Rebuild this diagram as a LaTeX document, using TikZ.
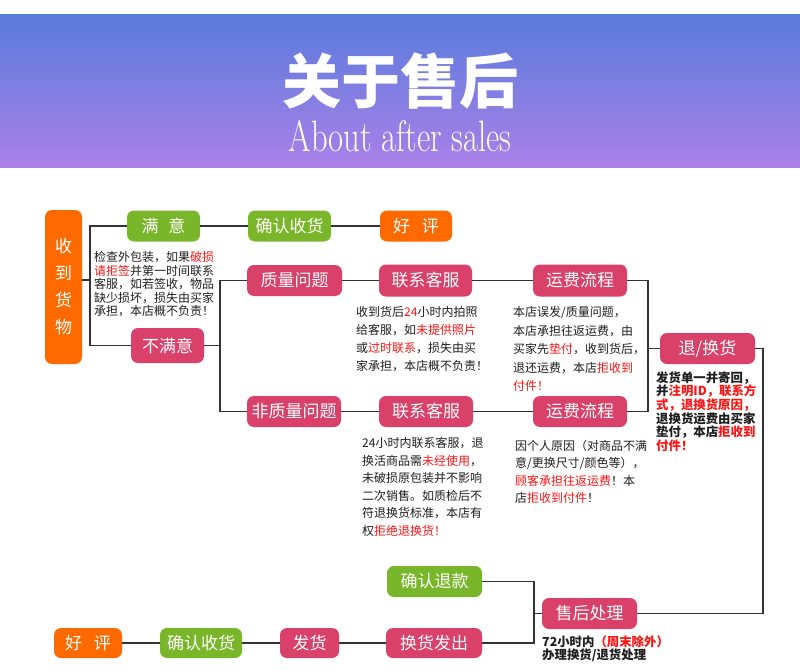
\documentclass[tikz,border=0pt]{standalone}
\usepackage{fontspec}
\newfontfamily\cjk{Noto Sans CJK SC}
\definecolor{gC}{HTML}{7AB62A}
\definecolor{pC}{HTML}{D9406A}
\definecolor{oC}{HTML}{FF6A00}
\definecolor{lnC}{HTML}{333333}
\definecolor{rC}{HTML}{FF1414}
\definecolor{txC}{HTML}{1E1E1E}
\definecolor{topC}{HTML}{5A7CDC}
\definecolor{botC}{HTML}{AA80E8}
\newcommand\hl[1]{\textcolor{rC}{#1}}
\begin{document}
\begin{tikzpicture}[x=1pt,y=-1pt,
 box/.style={rounded corners=7pt,inner sep=0pt,minimum height=31pt,text=white,font=\cjk\fontsize{17}{17}\selectfont},
 gbox/.style={box,fill=gC}, pbox/.style={box,fill=pC}, obox/.style={box,fill=oC},
 ln/.style={draw=lnC,line width=1.4pt},
 txt/.style={anchor=north west,inner sep=0pt,align=left,text=txC,font=\cjk\fontsize{12}{18}\selectfont},
 btxt/.style={anchor=north west,inner sep=0pt,align=left,text=txC,font=\cjk\bfseries\fontsize{12.4}{13.6}\selectfont}
]
\useasboundingbox (0,0) rectangle (800,671);
\fill[white] (0,0) rectangle (800,671);
\shade[top color=topC,bottom color=botC] (0,15) rectangle (800,168);
\node[text=white,font=\cjk\bfseries\fontsize{59}{59}\selectfont] (title) at (400,81) {关于售后};
\node[text=white,font=\fontsize{44}{44}\selectfont,inner sep=0pt] (sub) at (400,136) {\scalebox{0.74}[1]{About after sales}};

% boxes
\node[obox,minimum width=37pt,minimum height=154pt,align=center,font=\cjk\fontsize{17}{27}\selectfont] (recv) at (63.5,287) {收\\到\\货\\物};
\node[gbox,minimum width=73pt] (sat) at (163.5,226) {满\hspace{10pt}意};
\node[gbox,minimum width=83pt] (ok1) at (289.5,226) {确认收货};
\node[obox,minimum width=72pt] (good1) at (416,226) {好\hspace{12pt}评};
\node[pbox,minimum width=73pt,minimum height=35pt] (unsat) at (167.5,345.5) {不满意};
\node[pbox,minimum width=95pt] (qual) at (294.5,280.5) {质量问题};
\node[pbox,minimum width=93pt,minimum height=32pt] (cs1) at (425.5,280.5) {联系客服};
\node[pbox,minimum width=94pt,minimum height=32pt] (fee1) at (580,280.5) {运费流程};
\node[pbox,minimum width=95pt] (ret) at (707.5,348.5) {退/换货};
\node[pbox,minimum width=94pt] (nqual) at (294,411.5) {非质量问题};
\node[pbox,minimum width=94pt] (cs2) at (426,411.5) {联系客服};
\node[pbox,minimum width=94pt] (fee2) at (580,411.5) {运费流程};
\node[gbox,minimum width=95pt] (refund) at (434.5,581.5) {确认退款};
\node[pbox,minimum width=95pt] (after) at (589.5,613.5) {售后处理};
\node[pbox,minimum width=96pt,minimum height=30pt] (resend) at (434,643) {换货发出};
\node[pbox,minimum width=59pt,minimum height=30pt] (ship) at (309.5,643) {发货};
\node[gbox,minimum width=82pt,minimum height=30pt] (ok2) at (201,643) {确认收货};
\node[obox,minimum width=68pt,minimum height=30pt] (good2) at (88,643) {好\hspace{12pt}评};

% junctions
\coordinate (j1) at (90,280);
\coordinate (j1t) at (90,226);
\coordinate (j1b) at (90,345.5);
\coordinate (j2) at (220,345.5);
\coordinate (j2t) at (220,280.5);
\coordinate (j2b) at (220,411.5);
\coordinate (j3t) at (648,280.5);
\coordinate (j3m) at (648,348.5);
\coordinate (j3b) at (648,411.5);
\coordinate (j4t) at (763,348.5);
\coordinate (j4b) at (763,613.5);
\coordinate (j5t) at (534,581.5);
\coordinate (j5m) at (534,613.5);
\coordinate (j5b) at (534,643);

% connectors
\draw[ln] (recv.east |- j1) -- (j1);
\draw[ln] (sat.west) -- (j1t) -- (j1b) -- (unsat.west);
\draw[ln] (sat.east) -- (ok1.west);
\draw[ln] (ok1.east) -- (good1.west);
\draw[ln] (unsat.east) -- (j2);
\draw[ln] (qual.west) -- (j2t) -- (j2b) -- (nqual.west);
\draw[ln] (qual.east) -- (cs1.west);
\draw[ln] (cs1.east) -- (fee1.west);
\draw[ln] (nqual.east) -- (cs2.west);
\draw[ln] (cs2.east) -- (fee2.west);
\draw[ln] (fee1.east) -- (j3t) -- (j3b) -- (fee2.east);
\draw[ln] (j3m) -- (ret.west);
\draw[ln] (ret.east) -- (j4t) -- (j4b) -- (after.east);
\draw[ln] (refund.east) -- (j5t) -- (j5b) -- (resend.east);
\draw[ln] (j5m) -- (after.west);
\draw[ln] (good2.east) -- (ok2.west);
\draw[ln] (ok2.east) -- (ship.west);
\draw[ln] (ship.east) -- (resend.west);

% texts
\node[txt,font=\cjk\fontsize{12}{13.5}\selectfont] (t1) at (94,251.6) {检查外包装，如果\hl{破损}\\\hl{请拒签}并第一时间联系\\客服，如若签收，物品\\缺少损坏，损失由买家\\承担，本店概不负责！};
\node[txt] (t2) at (356,306.6) {收到货后\hl{24}小时内拍照\\给客服，如\hl{未提供照片}\\或\hl{过时联系}，损失由买\\家承担，本店概不负责！};
\node[txt,font=\cjk\fontsize{12}{18.5}\selectfont] (t3) at (513,306.6) {本店误发/质量问题，\\本店承担往返运费，由\\买家先\hl{垫付}，收到货后，\\退还运费，本店\hl{拒收到}\\\hl{付件！}};
\node[btxt] (t4) at (656,371.4) {发货单一并寄回，\\并\hl{注明ID，联系方}\\\hl{式，退换货原因，}\\退换货运费由买家\\垫付，本店\hl{拒收到}\\\hl{付件！}};
\node[txt,font=\cjk\fontsize{12}{17.5}\selectfont] (t5) at (362,437.6) {24小时内联系客服，退\\换活商品需\hl{未经使用}，\\未破损原包装并不影响\\二次销售。如质检后不\\符退换货标准，本店有\\权\hl{拒绝退换货！}};
\node[txt,font=\cjk\fontsize{12}{17.5}\selectfont] (t6) at (515,439.6) {因个人原因（对商品不满\\意/更换尺寸/颜色等），\\\hl{顾客承担往返运费}！本\\店\hl{拒收到付件}！};
\node[btxt,font=\cjk\bfseries\fontsize{12.4}{13}\selectfont] (t7) at (542,635.4) {72小时内\hl{（周末除外）}\\办理换货/退货处理};
\end{tikzpicture}
\end{document}
